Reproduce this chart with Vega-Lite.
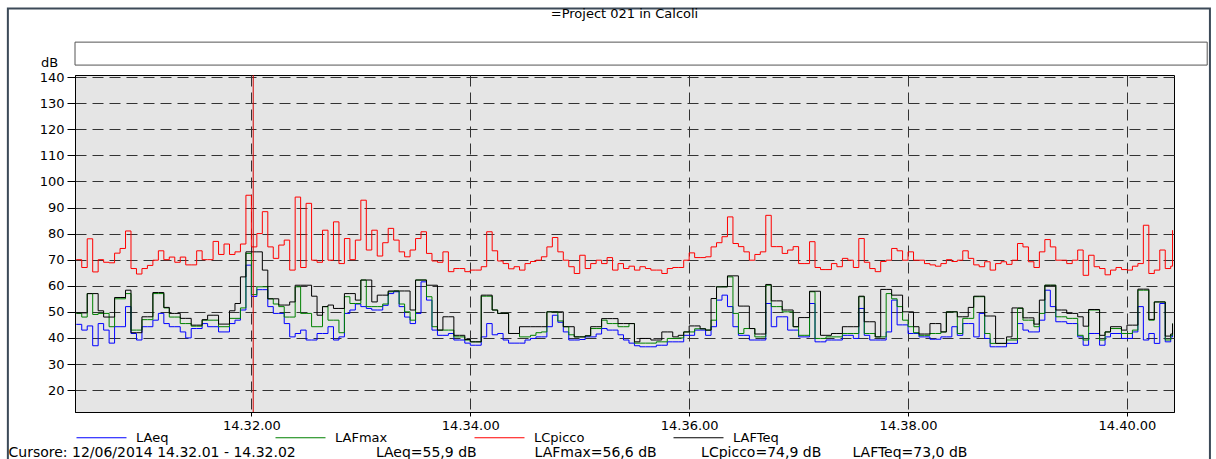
{
"$schema":"https://vega.github.io/schema/vega-lite/v6.json",
"width":1099,"height":337,
"autosize":"none",
"padding":{"left":75,"top":75,"right":42,"bottom":47},
"background":"white",
"title":{"text":"=Project 021 in Calcoli","fontSize":13,"fontWeight":"normal","font":"DejaVu Sans","color":"#000","offset":-14,"anchor":"middle","frame":"group"},
"data":{"values":[
{"t":24,"LAeq":45.2,"LAFmax":49.4,"LCpicco":70,"LAFTeq":49.6},
{"t":27,"LAeq":43,"LAFmax":48,"LCpicco":67,"LAFTeq":49.6},
{"t":30,"LAeq":44.6,"LAFmax":57,"LCpicco":78,"LAFTeq":57},
{"t":33,"LAeq":37,"LAFmax":49,"LCpicco":65.3,"LAFTeq":57},
{"t":36,"LAeq":45.5,"LAFmax":49.4,"LCpicco":70,"LAFTeq":50.4},
{"t":39,"LAeq":43,"LAFmax":49.4,"LCpicco":69,"LAFTeq":48},
{"t":42,"LAeq":38,"LAFmax":44.3,"LCpicco":68.8,"LAFTeq":48},
{"t":45,"LAeq":44.3,"LAFmax":55,"LCpicco":72.5,"LAFTeq":55.5},
{"t":48,"LAeq":44.3,"LAFmax":55,"LCpicco":74.3,"LAFTeq":55.5},
{"t":51,"LAeq":52,"LAFmax":57,"LCpicco":81,"LAFTeq":58.3},
{"t":54,"LAeq":41.7,"LAFmax":43,"LCpicco":66.6,"LAFTeq":42},
{"t":57,"LAeq":39.2,"LAFmax":43,"LCpicco":64.5,"LAFTeq":42},
{"t":60,"LAeq":44.3,"LAFmax":47,"LCpicco":66.6,"LAFTeq":48.1},
{"t":63,"LAeq":44.3,"LAFmax":47,"LCpicco":67.8,"LAFTeq":48.1},
{"t":66,"LAeq":46.8,"LAFmax":57,"LCpicco":69.8,"LAFTeq":57.4},
{"t":69,"LAeq":49.4,"LAFmax":57,"LCpicco":73.4,"LAFTeq":57.4},
{"t":72,"LAeq":45.5,"LAFmax":51.5,"LCpicco":70,"LAFTeq":51.7},
{"t":75,"LAeq":44.3,"LAFmax":48,"LCpicco":71,"LAFTeq":49.4},
{"t":78,"LAeq":44.3,"LAFmax":48,"LCpicco":69,"LAFTeq":49.4},
{"t":81,"LAeq":42.3,"LAFmax":45.5,"LCpicco":71,"LAFTeq":47.5},
{"t":84,"LAeq":40,"LAFmax":45.5,"LCpicco":68,"LAFTeq":47.5},
{"t":87,"LAeq":43.6,"LAFmax":44.5,"LCpicco":68,"LAFTeq":44.9},
{"t":90,"LAeq":43.6,"LAFmax":44.5,"LCpicco":73.4,"LAFTeq":44.9},
{"t":93,"LAeq":45.5,"LAFmax":46.8,"LCpicco":70,"LAFTeq":47},
{"t":96,"LAeq":44.3,"LAFmax":46.8,"LCpicco":70,"LAFTeq":48.7},
{"t":99,"LAeq":44.3,"LAFmax":46.8,"LCpicco":77,"LAFTeq":48.7},
{"t":102,"LAeq":42.3,"LAFmax":44.3,"LCpicco":72,"LAFTeq":45.3},
{"t":105,"LAeq":42.3,"LAFmax":44.3,"LCpicco":76,"LAFTeq":45.3},
{"t":108,"LAeq":45.5,"LAFmax":47.5,"LCpicco":72,"LAFTeq":50.4},
{"t":111,"LAeq":46.8,"LAFmax":47.5,"LCpicco":73,"LAFTeq":53.2},
{"t":114,"LAeq":50.7,"LAFmax":51.5,"LCpicco":76,"LAFTeq":63.4},
{"t":117,"LAeq":67.9,"LAFmax":72.4,"LCpicco":94.7,"LAFTeq":73},
{"t":120,"LAeq":55.9,"LAFmax":56.6,"LCpicco":74.9,"LAFTeq":73},
{"t":123,"LAeq":58.5,"LAFmax":59.6,"LCpicco":80,"LAFTeq":73},
{"t":126,"LAeq":58.5,"LAFmax":59.6,"LCpicco":88.4,"LAFTeq":66},
{"t":129,"LAeq":52,"LAFmax":55,"LCpicco":74.9,"LAFTeq":55},
{"t":132,"LAeq":49.4,"LAFmax":53,"LCpicco":70.5,"LAFTeq":55},
{"t":135,"LAeq":49.4,"LAFmax":52,"LCpicco":75.6,"LAFTeq":52.6},
{"t":138,"LAeq":45.5,"LAFmax":48,"LCpicco":77.5,"LAFTeq":52.6},
{"t":141,"LAeq":40.4,"LAFmax":48,"LCpicco":66,"LAFTeq":53.8},
{"t":144,"LAeq":41.7,"LAFmax":59.6,"LCpicco":94,"LAFTeq":60.2},
{"t":147,"LAeq":43,"LAFmax":49.4,"LCpicco":67,"LAFTeq":60.2},
{"t":150,"LAeq":39.2,"LAFmax":49.4,"LCpicco":91.6,"LAFTeq":60.2},
{"t":153,"LAeq":39.2,"LAFmax":44.3,"LCpicco":69.8,"LAFTeq":56},
{"t":156,"LAeq":41.7,"LAFmax":44.3,"LCpicco":69,"LAFTeq":48.7},
{"t":159,"LAeq":41.7,"LAFmax":52,"LCpicco":81.3,"LAFTeq":52},
{"t":162,"LAeq":44.3,"LAFmax":46.8,"LCpicco":69.8,"LAFTeq":52.6},
{"t":165,"LAeq":39.2,"LAFmax":46.8,"LCpicco":84.5,"LAFTeq":51.3},
{"t":168,"LAeq":40.4,"LAFmax":42,"LCpicco":68.5,"LAFTeq":51.3},
{"t":171,"LAeq":49.4,"LAFmax":55.8,"LCpicco":78.1,"LAFTeq":57},
{"t":174,"LAeq":50.7,"LAFmax":53.2,"LCpicco":70,"LAFTeq":57},
{"t":177,"LAeq":53,"LAFmax":53.2,"LCpicco":77.5,"LAFTeq":54.5},
{"t":180,"LAeq":52,"LAFmax":62.2,"LCpicco":92.8,"LAFTeq":62.2},
{"t":183,"LAeq":51.3,"LAFmax":52,"LCpicco":73.7,"LAFTeq":62.2},
{"t":186,"LAeq":50.7,"LAFmax":52,"LCpicco":81.3,"LAFTeq":53.8},
{"t":189,"LAeq":50.7,"LAFmax":52,"LCpicco":71.4,"LAFTeq":56.4},
{"t":192,"LAeq":52.5,"LAFmax":53,"LCpicco":76.5,"LAFTeq":56.4},
{"t":195,"LAeq":57,"LAFmax":57.7,"LCpicco":82,"LAFTeq":58},
{"t":198,"LAeq":57.7,"LAFmax":58,"LCpicco":77.5,"LAFTeq":58},
{"t":201,"LAeq":52,"LAFmax":53,"LCpicco":73,"LAFTeq":58},
{"t":204,"LAeq":48,"LAFmax":50,"LCpicco":71.1,"LAFTeq":58},
{"t":207,"LAeq":45.5,"LAFmax":46.8,"LCpicco":73.7,"LAFTeq":50.7},
{"t":210,"LAeq":49.4,"LAFmax":62.2,"LCpicco":78.1,"LAFTeq":62.2},
{"t":213,"LAeq":61.5,"LAFmax":62.2,"LCpicco":80.7,"LAFTeq":62.2},
{"t":216,"LAeq":54.5,"LAFmax":55.8,"LCpicco":72.4,"LAFTeq":60.2},
{"t":219,"LAeq":43,"LAFmax":44.3,"LCpicco":69.5,"LAFTeq":60.2},
{"t":222,"LAeq":41,"LAFmax":43,"LCpicco":69,"LAFTeq":43},
{"t":225,"LAeq":41,"LAFmax":43,"LCpicco":73,"LAFTeq":48.1},
{"t":228,"LAeq":41.7,"LAFmax":43,"LCpicco":65.4,"LAFTeq":48.1},
{"t":231,"LAeq":39.2,"LAFmax":40.4,"LCpicco":66.6,"LAFTeq":41},
{"t":234,"LAeq":39.2,"LAFmax":40.4,"LCpicco":66.6,"LAFTeq":41},
{"t":237,"LAeq":38,"LAFmax":39.2,"LCpicco":65.4,"LAFTeq":39.4},
{"t":240,"LAeq":37.2,"LAFmax":38.5,"LCpicco":66,"LAFTeq":38.5},
{"t":243,"LAeq":37.2,"LAFmax":38.5,"LCpicco":66,"LAFTeq":38.5},
{"t":246,"LAeq":40.4,"LAFmax":56,"LCpicco":67.3,"LAFTeq":56.4},
{"t":249,"LAeq":45.5,"LAFmax":56,"LCpicco":80.7,"LAFTeq":56.4},
{"t":252,"LAeq":41.2,"LAFmax":50.7,"LCpicco":73.4,"LAFTeq":50.7},
{"t":255,"LAeq":41.7,"LAFmax":49.4,"LCpicco":69.5,"LAFTeq":49.4},
{"t":258,"LAeq":39.2,"LAFmax":49.4,"LCpicco":68.5,"LAFTeq":49.4},
{"t":261,"LAeq":38,"LAFmax":41.7,"LCpicco":66.5,"LAFTeq":41.7},
{"t":264,"LAeq":38,"LAFmax":41.7,"LCpicco":67.3,"LAFTeq":41.7},
{"t":267,"LAeq":38,"LAFmax":40.4,"LCpicco":66,"LAFTeq":44.3},
{"t":270,"LAeq":39.2,"LAFmax":40.4,"LCpicco":68.5,"LAFTeq":44.3},
{"t":273,"LAeq":39.8,"LAFmax":41,"LCpicco":69.3,"LAFTeq":44.3},
{"t":276,"LAeq":40.4,"LAFmax":42,"LCpicco":69.8,"LAFTeq":44.3},
{"t":279,"LAeq":40.4,"LAFmax":42.3,"LCpicco":71.1,"LAFTeq":44.3},
{"t":282,"LAeq":44.3,"LAFmax":50,"LCpicco":74.9,"LAFTeq":50},
{"t":285,"LAeq":48.7,"LAFmax":50,"LCpicco":78.5,"LAFTeq":50},
{"t":288,"LAeq":46,"LAFmax":46.5,"LCpicco":73,"LAFTeq":50},
{"t":291,"LAeq":42.3,"LAFmax":44.3,"LCpicco":69.8,"LAFTeq":44.3},
{"t":294,"LAeq":39.2,"LAFmax":41.2,"LCpicco":67.3,"LAFTeq":44.3},
{"t":297,"LAeq":39.2,"LAFmax":40.4,"LCpicco":64.7,"LAFTeq":40.4},
{"t":300,"LAeq":39.4,"LAFmax":40.4,"LCpicco":71.7,"LAFTeq":40.4},
{"t":303,"LAeq":40.4,"LAFmax":40.8,"LCpicco":66.6,"LAFTeq":40.8},
{"t":306,"LAeq":40.4,"LAFmax":43.6,"LCpicco":68.5,"LAFTeq":44.3},
{"t":309,"LAeq":41.5,"LAFmax":43.6,"LCpicco":69.8,"LAFTeq":44.3},
{"t":312,"LAeq":43.6,"LAFmax":46.8,"LCpicco":68.5,"LAFTeq":47.4},
{"t":315,"LAeq":43,"LAFmax":45.5,"LCpicco":70.8,"LAFTeq":47.4},
{"t":318,"LAeq":43,"LAFmax":45.5,"LCpicco":66,"LAFTeq":47.4},
{"t":321,"LAeq":41.2,"LAFmax":44.3,"LCpicco":68.5,"LAFTeq":45.5},
{"t":324,"LAeq":39.2,"LAFmax":44.3,"LCpicco":66.6,"LAFTeq":45.5},
{"t":327,"LAeq":38,"LAFmax":45.5,"LCpicco":67.5,"LAFTeq":45.5},
{"t":330,"LAeq":37,"LAFmax":38,"LCpicco":66,"LAFTeq":38.5},
{"t":333,"LAeq":36.6,"LAFmax":38,"LCpicco":67.3,"LAFTeq":39.8},
{"t":336,"LAeq":36.6,"LAFmax":38,"LCpicco":66.6,"LAFTeq":39.8},
{"t":339,"LAeq":36.6,"LAFmax":38,"LCpicco":66,"LAFTeq":39.2},
{"t":342,"LAeq":37.2,"LAFmax":38.5,"LCpicco":66,"LAFTeq":39.2},
{"t":345,"LAeq":37.2,"LAFmax":38.5,"LCpicco":64.7,"LAFTeq":42.3},
{"t":348,"LAeq":38.5,"LAFmax":39.8,"LCpicco":66.6,"LAFTeq":42.3},
{"t":351,"LAeq":38.5,"LAFmax":39.8,"LCpicco":67,"LAFTeq":40.4},
{"t":354,"LAeq":38.5,"LAFmax":40,"LCpicco":67,"LAFTeq":41},
{"t":357,"LAeq":41,"LAFmax":42.3,"LCpicco":69.8,"LAFTeq":42.3},
{"t":360,"LAeq":41,"LAFmax":42.3,"LCpicco":72.6,"LAFTeq":44.6},
{"t":363,"LAeq":43,"LAFmax":43.5,"LCpicco":70.8,"LAFTeq":44.6},
{"t":366,"LAeq":43,"LAFmax":43.5,"LCpicco":70.8,"LAFTeq":43.5},
{"t":369,"LAeq":41,"LAFmax":43,"LCpicco":71.1,"LAFTeq":43},
{"t":372,"LAeq":44.3,"LAFmax":46.8,"LCpicco":74.9,"LAFTeq":55.1},
{"t":375,"LAeq":54.5,"LAFmax":59.6,"LCpicco":76.5,"LAFTeq":59.6},
{"t":378,"LAeq":56.4,"LAFmax":59.6,"LCpicco":78.8,"LAFTeq":59.6},
{"t":381,"LAeq":52,"LAFmax":63.4,"LCpicco":86.4,"LAFTeq":63.8},
{"t":384,"LAeq":44.3,"LAFmax":49.4,"LCpicco":76.2,"LAFTeq":63.8},
{"t":387,"LAeq":41,"LAFmax":41.7,"LCpicco":75,"LAFTeq":52.2},
{"t":390,"LAeq":41,"LAFmax":43.6,"LCpicco":73,"LAFTeq":52.2},
{"t":393,"LAeq":39.2,"LAFmax":43.6,"LCpicco":69.8,"LAFTeq":43.6},
{"t":396,"LAeq":39.2,"LAFmax":40.4,"LCpicco":72,"LAFTeq":41.5},
{"t":399,"LAeq":39.2,"LAFmax":40.4,"LCpicco":73,"LAFTeq":41.5},
{"t":402,"LAeq":53.2,"LAFmax":60.2,"LCpicco":87,"LAFTeq":60.5},
{"t":405,"LAeq":44.3,"LAFmax":52,"LCpicco":75,"LAFTeq":54.2},
{"t":408,"LAeq":48.1,"LAFmax":52,"LCpicco":75,"LAFTeq":54.2},
{"t":411,"LAeq":48.1,"LAFmax":50,"LCpicco":72.4,"LAFTeq":50.7},
{"t":414,"LAeq":43,"LAFmax":50,"LCpicco":73.7,"LAFTeq":50.7},
{"t":417,"LAeq":43,"LAFmax":44.3,"LCpicco":75,"LAFTeq":44.3},
{"t":420,"LAeq":40.4,"LAFmax":41,"LCpicco":68.5,"LAFTeq":47.8},
{"t":423,"LAeq":40.4,"LAFmax":41,"LCpicco":68.5,"LAFTeq":47.8},
{"t":426,"LAeq":53.2,"LAFmax":57.7,"LCpicco":76.9,"LAFTeq":57.9},
{"t":429,"LAeq":38.5,"LAFmax":39.8,"LCpicco":67,"LAFTeq":57.9},
{"t":432,"LAeq":38.5,"LAFmax":39.8,"LCpicco":66.2,"LAFTeq":41},
{"t":435,"LAeq":39.2,"LAFmax":40.4,"LCpicco":66.2,"LAFTeq":41},
{"t":438,"LAeq":39.2,"LAFmax":40.4,"LCpicco":68.5,"LAFTeq":41.7},
{"t":441,"LAeq":39.2,"LAFmax":40.4,"LCpicco":67.3,"LAFTeq":41.7},
{"t":444,"LAeq":41,"LAFmax":41.7,"LCpicco":70.5,"LAFTeq":44.3},
{"t":447,"LAeq":41,"LAFmax":41.7,"LCpicco":69.8,"LAFTeq":44.3},
{"t":450,"LAeq":39.8,"LAFmax":41.7,"LCpicco":67,"LAFTeq":44.3},
{"t":453,"LAeq":51.3,"LAFmax":55.8,"LCpicco":78.1,"LAFTeq":56},
{"t":456,"LAeq":41,"LAFmax":41.7,"LCpicco":69,"LAFTeq":46.2},
{"t":459,"LAeq":39.2,"LAFmax":41.7,"LCpicco":66.6,"LAFTeq":46.2},
{"t":462,"LAeq":39.2,"LAFmax":40.4,"LCpicco":65.4,"LAFTeq":40.4},
{"t":465,"LAeq":39.2,"LAFmax":40.4,"LCpicco":69.3,"LAFTeq":58.6},
{"t":468,"LAeq":42.3,"LAFmax":57,"LCpicco":69.8,"LAFTeq":58.6},
{"t":471,"LAeq":54.5,"LAFmax":55,"LCpicco":74.3,"LAFTeq":56.4},
{"t":474,"LAeq":45,"LAFmax":52,"LCpicco":73.4,"LAFTeq":56.4},
{"t":477,"LAeq":45,"LAFmax":46.8,"LCpicco":69.8,"LAFTeq":50},
{"t":480,"LAeq":41.7,"LAFmax":44.3,"LCpicco":73,"LAFTeq":50},
{"t":483,"LAeq":41.7,"LAFmax":42,"LCpicco":69.8,"LAFTeq":44.3},
{"t":486,"LAeq":40.4,"LAFmax":41,"LCpicco":69.8,"LAFTeq":41.5},
{"t":489,"LAeq":40.4,"LAFmax":41,"LCpicco":68.5,"LAFTeq":41.5},
{"t":492,"LAeq":39.5,"LAFmax":41.7,"LCpicco":68,"LAFTeq":45.5},
{"t":495,"LAeq":39.5,"LAFmax":41.7,"LCpicco":67.5,"LAFTeq":45.5},
{"t":498,"LAeq":40.4,"LAFmax":42.3,"LCpicco":68.5,"LAFTeq":42.3},
{"t":501,"LAeq":40.4,"LAFmax":50,"LCpicco":70,"LAFTeq":50},
{"t":504,"LAeq":44.3,"LAFmax":50,"LCpicco":69.3,"LAFTeq":50},
{"t":507,"LAeq":41,"LAFmax":41.7,"LCpicco":69.8,"LAFTeq":48.1},
{"t":510,"LAeq":45.5,"LAFmax":47.5,"LCpicco":73.4,"LAFTeq":48.1},
{"t":513,"LAeq":45.5,"LAFmax":47.5,"LCpicco":70.5,"LAFTeq":51.7},
{"t":516,"LAeq":40.4,"LAFmax":55.8,"LCpicco":68,"LAFTeq":56},
{"t":519,"LAeq":49.4,"LAFmax":55.8,"LCpicco":67.3,"LAFTeq":56},
{"t":522,"LAeq":39.8,"LAFmax":41.7,"LCpicco":69.2,"LAFTeq":48.4},
{"t":525,"LAeq":36.6,"LAFmax":37.9,"LCpicco":66,"LAFTeq":48.4},
{"t":528,"LAeq":36.6,"LAFmax":37.9,"LCpicco":68.5,"LAFTeq":37.9},
{"t":531,"LAeq":36.6,"LAFmax":37.9,"LCpicco":69.2,"LAFTeq":37.9},
{"t":534,"LAeq":37.9,"LAFmax":39.2,"LCpicco":68.2,"LAFTeq":40.4},
{"t":537,"LAeq":37.9,"LAFmax":39.2,"LCpicco":69.8,"LAFTeq":51.5},
{"t":540,"LAeq":45.5,"LAFmax":51.3,"LCpicco":76.2,"LAFTeq":51.5},
{"t":543,"LAeq":43,"LAFmax":46.8,"LCpicco":74.9,"LAFTeq":47.7},
{"t":546,"LAeq":42.3,"LAFmax":46.8,"LCpicco":69.2,"LAFTeq":47.7},
{"t":549,"LAeq":42.3,"LAFmax":44.3,"LCpicco":67,"LAFTeq":45.3},
{"t":552,"LAeq":46.8,"LAFmax":49.4,"LCpicco":73,"LAFTeq":54.5},
{"t":555,"LAeq":58.3,"LAFmax":60.2,"LCpicco":77.7,"LAFTeq":60.2},
{"t":558,"LAeq":52,"LAFmax":60.2,"LCpicco":74.9,"LAFTeq":60.2},
{"t":561,"LAeq":46.2,"LAFmax":48.1,"LCpicco":69.8,"LAFTeq":50.7},
{"t":564,"LAeq":46.2,"LAFmax":48.1,"LCpicco":69.8,"LAFTeq":50.7},
{"t":567,"LAeq":45.5,"LAFmax":47.5,"LCpicco":68.5,"LAFTeq":49.4},
{"t":570,"LAeq":45.5,"LAFmax":47.5,"LCpicco":69.8,"LAFTeq":49.4},
{"t":573,"LAeq":40.4,"LAFmax":41,"LCpicco":73.7,"LAFTeq":48.1},
{"t":576,"LAeq":37.2,"LAFmax":39.2,"LCpicco":64,"LAFTeq":44.5},
{"t":579,"LAeq":41.7,"LAFmax":50.7,"LCpicco":71.7,"LAFTeq":50.9},
{"t":582,"LAeq":41.7,"LAFmax":50.7,"LCpicco":67.3,"LAFTeq":50.9},
{"t":585,"LAeq":37.2,"LAFmax":39.2,"LCpicco":66.6,"LAFTeq":41},
{"t":588,"LAeq":40.4,"LAFmax":42.3,"LCpicco":64.2,"LAFTeq":42.3},
{"t":591,"LAeq":41.7,"LAFmax":43.6,"LCpicco":66,"LAFTeq":44.3},
{"t":594,"LAeq":41.7,"LAFmax":43.6,"LCpicco":67,"LAFTeq":44.3},
{"t":597,"LAeq":39.8,"LAFmax":41.7,"LCpicco":66.2,"LAFTeq":43},
{"t":600,"LAeq":39.8,"LAFmax":41.7,"LCpicco":66,"LAFTeq":44.9},
{"t":603,"LAeq":42.3,"LAFmax":43,"LCpicco":67.5,"LAFTeq":44.9},
{"t":606,"LAeq":52,"LAFmax":58.3,"LCpicco":68.5,"LAFTeq":58.7},
{"t":609,"LAeq":39.2,"LAFmax":58.3,"LCpicco":83.2,"LAFTeq":58.7},
{"t":612,"LAeq":41.7,"LAFmax":46.8,"LCpicco":64.7,"LAFTeq":47.1},
{"t":615,"LAeq":37.9,"LAFmax":53.8,"LCpicco":66,"LAFTeq":53.8},
{"t":618,"LAeq":53.2,"LAFmax":53.8,"LCpicco":73.7,"LAFTeq":53.8},
{"t":621,"LAeq":38.5,"LAFmax":39.2,"LCpicco":66.6,"LAFTeq":40.7},
{"t":624,"LAeq":40.4,"LAFmax":41,"LCpicco":67.5,"LAFTeq":41.5},
{"t":625,"LAeq":43,"LAFmax":45.5,"LCpicco":81.3,"LAFTeq":45.5}
]},
"resolve":{"axis":{"x":"independent","y":"independent"}},
"layer":[
{"transform":[{"fold":["LAeq","LAFmax","LCpicco","LAFTeq"],"as":["serie","dB"]}],
 "mark":{"type":"line","interpolate":"step-after","strokeWidth":1,"clip":true},
 "encoding":{
  "x":{"field":"t","type":"quantitative","scale":{"domain":[23.3,625.8],"nice":false,"zero":false},
   "axis":{"values":[120,240,360,480,600],"labelExpr":"'14.' + (30 + datum.value/60) + '.00'",
    "grid":true,"gridDash":[11,6],"gridColor":"#333333","gridWidth":1,
    "tickSize":4,"tickColor":"#000","domainColor":"#000","labelFontSize":13,"labelColor":"#000","labelPadding":3,
    "title":"Cursore: 12/06/2014 14.32.01 - 14.32.02\u00a0\u00a0\u00a0\u00a0\u00a0\u00a0\u00a0\u00a0\u00a0\u00a0\u00a0\u00a0\u00a0\u00a0\u00a0\u00a0\u00a0\u00a0LAeq=55,9 dB\u00a0\u00a0\u00a0\u00a0\u00a0\u00a0\u00a0\u00a0\u00a0\u00a0\u00a0\u00a0\u00a0LAFmax=56,6 dB\u00a0\u00a0\u00a0\u00a0\u00a0\u00a0\u00a0\u00a0\u00a0\u00a0LCpicco=74,9 dB\u00a0\u00a0\u00a0\u00a0\u00a0\u00a0\u00a0LAFTeq=73,0 dB",
    "titleAnchor":"start","titleAlign":"left","titleX":-67,"titleY":44,"titleFontSize":14,"titleFontWeight":"normal","titleColor":"#000","titleBaseline":"alphabetic"}},
  "y":{"field":"dB","type":"quantitative","scale":{"domain":[11.6,140.8],"nice":false,"zero":false},
   "axis":{"values":[20,30,40,50,60,70,80,90,100,110,120,130,140],"labelOverlap":false,
    "grid":true,"gridDash":[11,6],"gridColor":"#333333","gridWidth":1,
    "tickSize":8,"tickColor":"#000","domainColor":"#000","labelFontSize":13,"labelColor":"#000","labelPadding":3,
    "title":"dB","titleAngle":0,"titleX":-26,"titleY":-6,"titleAlign":"center","titleBaseline":"bottom","titleFontSize":13,"titleFontWeight":"normal","titleColor":"#000"}},
  "color":{"field":"serie","type":"nominal",
   "scale":{"domain":["LAeq","LAFmax","LCpicco","LAFTeq"],"range":["#0000ff","#008000","#ff0000","#000000"]},
   "legend":{"title":null,"orient":"none","legendX":1,"legendY":337,"direction":"horizontal","columns":4,"gridAlign":"all",
    "symbolType":"stroke","symbolSize":2500,"symbolStrokeWidth":1,"labelFontSize":13,"labelColor":"#000","labelOffset":9,"columnPadding":84}}
 }},
{"data":{"values":[{"t":121}]},
 "mark":{"type":"rule","color":"#d40000","strokeWidth":1},
 "encoding":{"x":{"field":"t","type":"quantitative","axis":null}}},
{"data":{"values":[{}]},
 "mark":{"type":"rect","fill":"none","stroke":"#3c4a58","strokeWidth":2,"clip":false},
 "encoding":{"x":{"datum":-13.5,"type":"quantitative","axis":null},"x2":{"datum":645.5},"y":{"datum":166.3,"type":"quantitative","axis":null},"y2":{"datum":-20}}},
{"data":{"values":[{}]},
 "mark":{"type":"rect","fill":"white","stroke":"#555555","strokeWidth":1,"clip":false},
 "encoding":{"x":{"datum":23.3,"type":"quantitative","axis":null},"x2":{"datum":644},"y":{"datum":153.4,"type":"quantitative","axis":null},"y2":{"datum":144.6}}}
],
"config":{
 "font":"DejaVu Sans",
 "view":{"fill":"#e5e5e5","stroke":"#000","strokeWidth":1}
}
}
